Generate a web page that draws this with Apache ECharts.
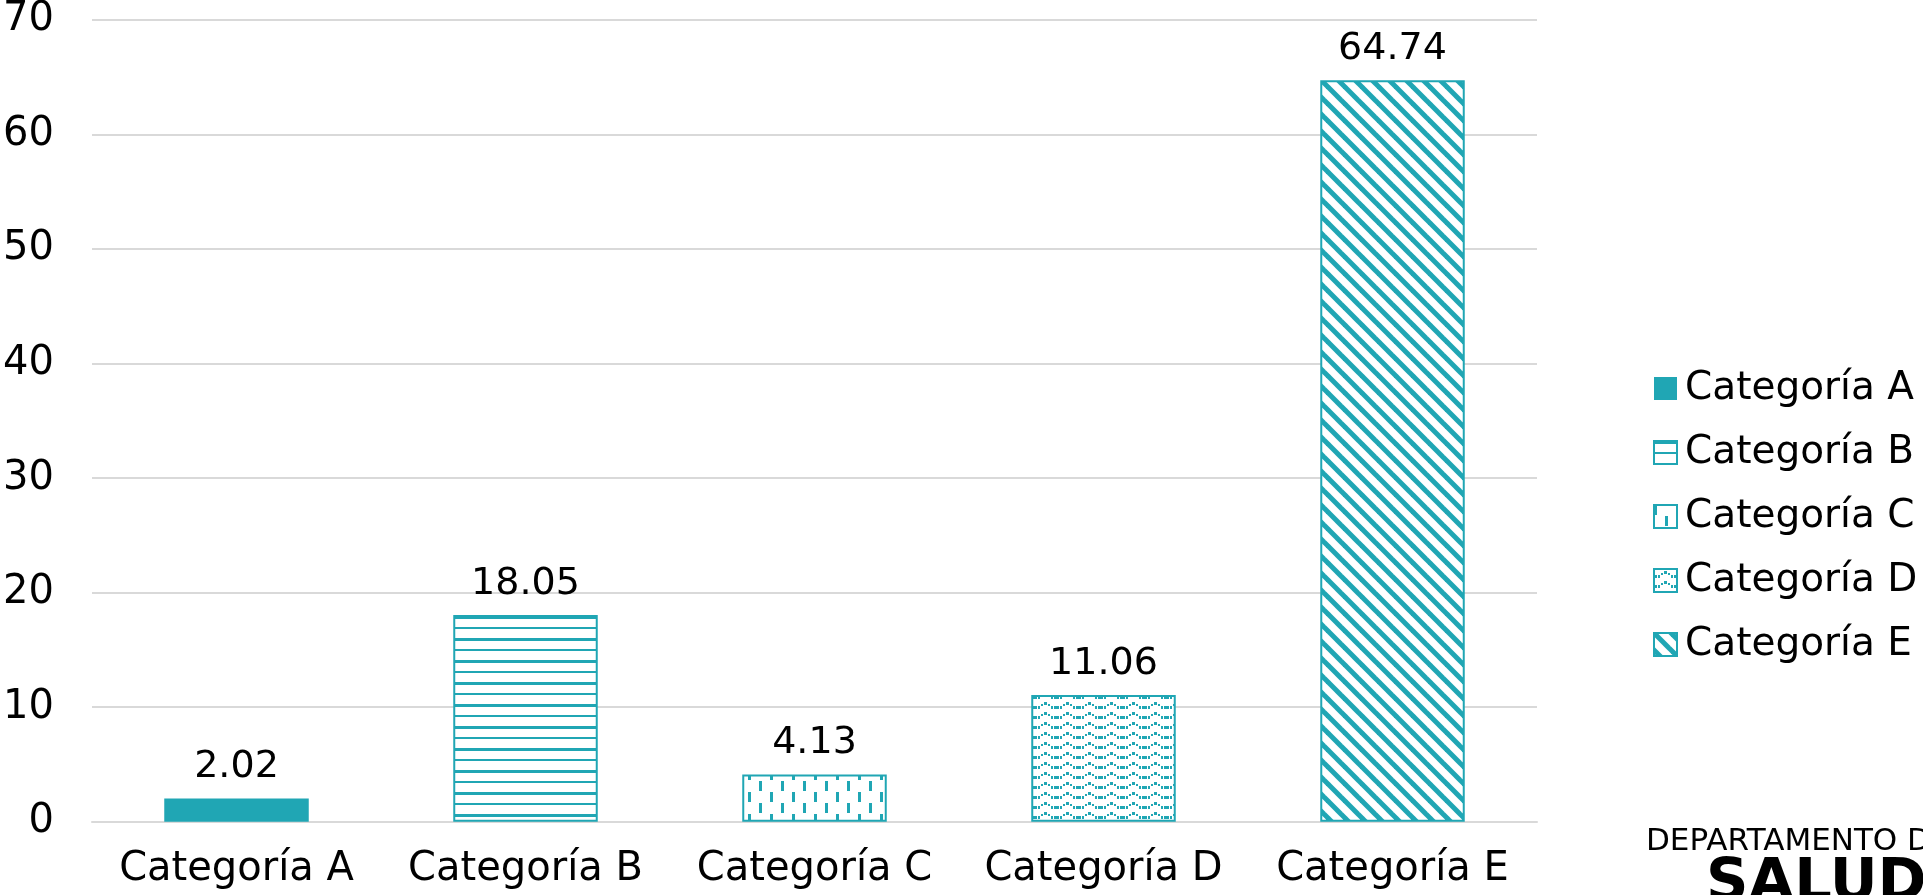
<!DOCTYPE html>
<html>
<head>
<meta charset="utf-8">
<script src="https://cdn.jsdelivr.net/npm/echarts@6/dist/echarts.min.js"></script>
<style>
html,body{margin:0;padding:0;background:#fff;}
#chart{width:1923px;height:895px;}
</style>
</head>
<body>
<div id="chart"></div>
<script>
// ---- data ----
var categories = ['Categoría A', 'Categoría B', 'Categoría C', 'Categoría D', 'Categoría E'];
var values = [2.02, 18.05, 4.13, 11.06, 64.74];
var yTicks = [0, 10, 20, 30, 40, 50, 60, 70];

// ---- styles ----
var TEAL = '#20A6B4';
var FONT = 'DejaVu Sans';

function makeTile(w, h, draw) {
  var c = document.createElement('canvas');
  c.width = w; c.height = h;
  var ctx = c.getContext('2d');
  ctx.fillStyle = '#fff';
  ctx.fillRect(0, 0, w, h);
  ctx.fillStyle = TEAL;
  ctx.strokeStyle = TEAL;
  draw(ctx);
  return c;
}
var patB = makeTile(8, 22, function (ctx) {
  ctx.fillRect(0, 0, 8, 3);
  ctx.fillRect(0, 11, 8, 2);
});
var patC = makeTile(22, 22, function (ctx) {
  ctx.fillRect(0, 0, 3, 10);
  ctx.fillRect(11, 11, 3, 10);
});
var patD = makeTile(22, 10, function (ctx) {
  ctx.fillRect(0, 6, 3, 3);
  ctx.fillRect(4, 6, 2, 3);
  ctx.fillRect(7, 4, 2, 2);
  ctx.fillRect(10, 2, 3, 3);
  ctx.fillRect(14, 4, 2, 2);
  ctx.fillRect(17, 6, 2, 3);
  ctx.fillRect(20, 6, 2, 3);
});
var patE = makeTile(17, 17, function (ctx) {
  ctx.lineWidth = 5;
  for (var k = -1; k <= 1; k++) {
    ctx.beginPath();
    ctx.moveTo(k * 17 - 2, -2);
    ctx.lineTo(k * 17 + 19, 19);
    ctx.stroke();
  }
});
var fills = [TEAL,
  {image: patB, repeat: 'repeat'},
  {image: patC, repeat: 'repeat'},
  {image: patD, repeat: 'repeat'},
  {image: patE, repeat: 'repeat'}];

var series = categories.map(function (name, i) {
  return {
    name: name,
    type: 'bar',
    barWidth: '50%',
    barGap: '-100%',
    data: categories.map(function (c, j) { return j === i ? values[i] : null; }),
    itemStyle: {
      color: fills[i],
      borderColor: TEAL,
      borderWidth: i === 0 ? 0 : 2
    },
    label: {
      show: true,
      position: 'top',
      distance: 12,
      color: '#000',
      fontFamily: FONT,
      fontSize: 38,
      formatter: function (p) { return p.value.toFixed(2); }
    }
  };
});

var chart = echarts.init(document.getElementById('chart'), null, {renderer: 'canvas'});
chart.setOption({
  backgroundColor: '#fff',
  animation: false,
  grid: {left: 92, right: 386, top: 19, bottom: 73.3, containLabel: false},
  legend: {
    orient: 'vertical',
    left: 1648,
    top: 364,
    icon: 'rect',
    itemWidth: 23,
    itemHeight: 23,
    itemGap: 25,
    textStyle: {fontFamily: FONT, fontSize: 39, color: '#000', lineHeight: 39, padding: [0, 0, 0, 3]},
    data: categories
  },
  xAxis: {
    type: 'category',
    data: categories,
    axisTick: {show: false},
    axisLine: {lineStyle: {color: '#D9D9D9', width: 2}},
    axisLabel: {interval: 0, fontFamily: FONT, fontSize: 40, color: '#000', margin: 28}
  },
  yAxis: {
    type: 'value',
    min: yTicks[0],
    max: yTicks[yTicks.length - 1],
    interval: yTicks[1] - yTicks[0],
    axisLine: {show: false},
    axisTick: {show: false},
    splitLine: {lineStyle: {color: '#D9D9D9', width: 2}},
    axisLabel: {fontFamily: FONT, fontSize: 40, color: '#000', margin: 38}
  },
  graphic: [
    {type: 'text', left: 1646, top: 826, style: {text: 'DEPARTAMENTO DE', font: '31px "DejaVu Sans"', fill: '#000'}},
    {type: 'text', left: 1706, top: 855, style: {text: 'SALUD', font: 'bold 59px "DejaVu Sans"', fill: '#000'}}
  ],
  series: series
});
</script>
</body>
</html>
